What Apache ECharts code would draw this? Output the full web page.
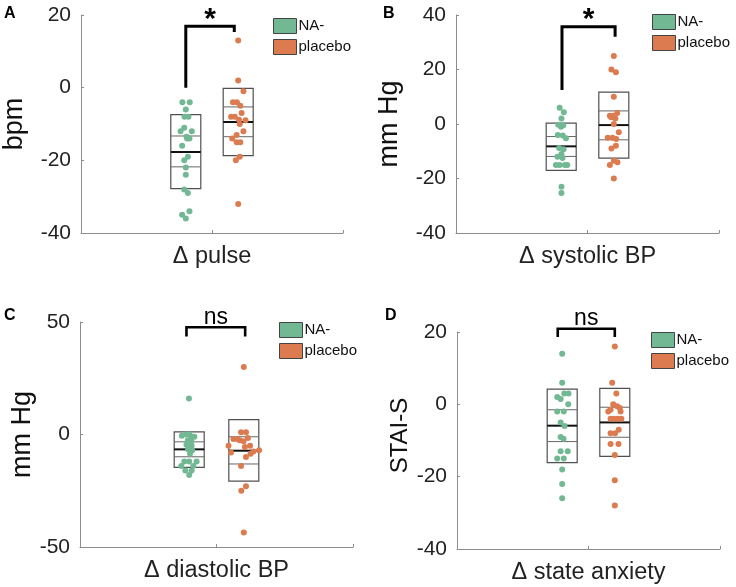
<!DOCTYPE html>
<html>
<head>
<meta charset="utf-8">
<script src="https://cdn.jsdelivr.net/npm/echarts@6/dist/echarts.min.js"></script>
<style>html,body{margin:0;padding:0;background:#fff}#c{width:736px;height:587px}</style>
</head>
<body>
<div id="c"></div>
<script>
// ---------- data ----------
var groupNames = ['NA-', 'placebo'];
var groupPos = [4, 6];
var panelLetters = ['A', 'B', 'C', 'D'];
var xNames = ['Δ pulse', 'Δ systolic BP', 'Δ diastolic BP', 'Δ state anxiety'];
var yNames = ['bpm', 'mm Hg', 'mm Hg', 'STAI-S'];
var yMin = [-40, -40, -50, -40];
var yMax = [20, 40, 50, 20];
var yStep = [20, 20, 50, 20];

// Panel A – pulse
var aNA = [-4, -4, -6, -8, -8, -11, -12, -12, -13.5, -14, -14, -16, -19, -20, -22, -24, -28, -29, -34, -35, -36];
var aNAjit = [-0.13, 0.15, 0, -0.05, 0.1, -0.06, -0.2, 0.23, 0.03, 0.14, 0.05, -0.14, 0.08, -0.06, 0, 0, -0.06, 0.08, 0.14, -0.14, 0];
var aPL = [13, 2, -1, -4, -4, -5, -7, -8, -8, -8.8, -9, -10, -12, -13, -14, -15, -15, -19, -20, -32];
var aPLjit = [0, 0, 0.2, -0.2, -0.05, 0.08, 0.13, -0.27, -0.13, 0.03, 0.28, 0.06, 0.2, -0.06, -0.23, -0.06, 0.08, 0.06, -0.09, 0];
// Panel B – systolic BP
var bNA = [6, 4.3, 2, -0.3, -0.5, -1, -4, -4.2, -5.2, -8.8, -9.3, -11, -12, -12.5, -15, -15, -15, -15, -23, -25.3];
var bNAjit = [-0.06, 0.1, 0.01, -0.11, 0.08, -0.01, -0.13, 0.06, 0.18, -0.08, 0.09, 0.01, -0.14, 0.05, -0.2, -0.06, 0.14, 0.23, 0.01, 0.01];
var bPL = [25, 20, 19, 10, 4, 3, 3, 2.5, 2, 0, -3, -5, -5, -5.5, -8, -9, -13.5, -14, -15, -20];
var bPLjit = [0, -0.09, 0.08, 0, 0.13, -0.15, -0.03, -0.1, 0.06, 0, 0.19, -0.23, -0.05, 0.09, 0.08, -0.09, 0, 0.14, -0.15, 0];
// Panel C – diastolic BP
var cNA = [16, 0, 0, -0.5, -1, -1, -2.5, -3, -4.5, -5, -6.5, -7, -8.5, -12, -12, -12, -14, -14, -16, -16, -18];
var cNAjit = [-0.01, -0.11, 0.01, -0.27, 0.19, 0.08, -0.05, 0.08, -0.1, 0.09, -0.04, 0.11, 0.03, -0.18, 0, 0.27, -0.29, 0.15, -0.14, 0.09, 0];
var cPL = [30, 1, 1, -1.5, -2, -2, -2.5, -3, -5, -5, -5.5, -7, -7.5, -8, -8.5, -10, -14, -23, -25, -43.5];
var cPLjit = [0, -0.1, 0.08, 0.15, -0.38, -0.24, -0.15, -0.01, -0.56, 0.23, 0.04, 0.56, 0.35, -0.47, 0.25, 0.08, -0.1, 0.08, -0.09, 0];
// Panel D – state anxiety
var dNA = [14, 6, 3, 3, 2, 1.5, 0, -2, -2, -5, -6, -9, -9.5, -13, -13, -15, -15, -18, -22, -26];
var dNAjit = [0, 0, 0.08, 0.24, -0.19, -0.06, 0.23, -0.19, 0.06, -0.06, 0.09, -0.06, 0.05, -0.06, 0.21, -0.19, 0.06, 0, 0, 0];
var dPL = [16, 6, 3, 0, -0.5, -1, -1.5, -2, -2, -4, -4, -4, -4, -7, -8, -8, -11, -11, -14, -21, -28];
var dPLjit = [0, -0.1, 0.06, -0.06, 0.09, 0.19, -0.16, -0.25, 0.22, -0.16, -0.03, 0.11, 0.25, 0.15, -0.16, 0.01, -0.16, 0.14, 0, 0, 0];

// box stats per group: [sdTop, sdBottom, mean, ciHigh, ciLow]
var aBox = [[-7.4, -27.8, -17.7, -13.3, -21.8], [-0.2, -18.7, -9.45, -5.3, -13.5]];
var bBox = [[0.3, -17, -8.2, -4.6, -11.9], [11.7, -12.5, -0.4, 4.8, -5.8]];
var cBox = [[1.2, -14.6, -6.6, -3.25, -9.9], [6.6, -20.7, -7.2, -1.0, -13.1]];
var dBox = [[4.2, -16.1, -5.9, -1.5, -10.3], [4.4, -14.4, -5.0, -0.8, -9.1]];

// significance brackets: [xLeft, xRight, yLeftEnd, yTop, yRightEnd]
var aSig = [4, 5.85, 0, 16.9, 15.3];
var bSig = [4.03, 6.05, 12.5, 35.7, 32];
var cSig = [3.9, 6.05, 43.6, 47.7, 43.6];
var dSig = [3.83, 6.0, 18.6, 20.9, 18.6];
var sigText = ['*', '*', 'ns', 'ns'];

// ---------- layout / style ----------
var FONT = "'Liberation Sans', Arial, sans-serif";
var GREEN = '#72b893', ORANGE = '#dd7b50';
var grids = [
  {left: 79, top: 15, width: 264, height: 218},
  {left: 456, top: 15, width: 263, height: 218},
  {left: 80, top: 322, width: 273, height: 225},
  {left: 457, top: 332, width: 263, height: 217}
];
var yNameGap = [53, 53, 35, 43];
var yNameSize = [27, 27, 27, 24];
var yNamePad = [0, 0, 0, [0, 0, 0, 10]];
var legendPos = [{left: 273, top: 18}, {left: 652, top: 14}, {left: 279, top: 322}, {left: 651, top: 332}];
var letterPos = [[4, 6], [383, 6], [4, 308], [385, 308]];

var panelNA = [aNA, bNA, cNA, dNA], panelNAjit = [aNAjit, bNAjit, cNAjit, dNAjit];
var panelPL = [aPL, bPL, cPL, dPL], panelPLjit = [aPLjit, bPLjit, cPLjit, dPLjit];
var panelBox = [aBox, bBox, cBox, dBox];
var panelSig = [aSig, bSig, cSig, dSig];

var BOX_HALF = 15;
function boxRender(params, api) {
  var x = api.value(0);
  var t = api.coord([x, api.value(1)]);
  var b = api.coord([x, api.value(2)]);
  var m = api.coord([x, api.value(3)]);
  var h = api.coord([x, api.value(4)]);
  var l = api.coord([x, api.value(5)]);
  var x0 = t[0] - BOX_HALF, x1 = t[0] + BOX_HALF;
  return {type: 'group', children: [
    {type: 'rect', shape: {x: x0, y: t[1], width: x1 - x0, height: b[1] - t[1]},
      style: {fill: 'rgba(255,255,255,0)', stroke: '#505050', lineWidth: 1.2}},
    {type: 'line', shape: {x1: x0, y1: h[1], x2: x1, y2: h[1]}, style: {stroke: '#666', lineWidth: 1}},
    {type: 'line', shape: {x1: x0, y1: l[1], x2: x1, y2: l[1]}, style: {stroke: '#666', lineWidth: 1}},
    {type: 'line', shape: {x1: x0, y1: m[1], x2: x1, y2: m[1]}, style: {stroke: '#111', lineWidth: 2}}
  ]};
}
function sigRender(text) {
  var isStar = text === '*';
  return function (params, api) {
    var p1 = api.coord([api.value(0), api.value(2)]);
    var p2 = api.coord([api.value(0), api.value(3)]);
    var p3 = api.coord([api.value(1), api.value(3)]);
    var p4 = api.coord([api.value(1), api.value(4)]);
    return {type: 'group', children: [
      {type: 'polyline', shape: {points: [p1, p2, p3, p4]},
        style: {stroke: '#000', lineWidth: isStar ? 3 : 2.6, fill: null, lineJoin: 'miter', lineCap: 'butt'}},
      {type: 'text', x: (p2[0] + p3[0]) / 2, y: p2[1] - (isStar ? 7 : 10),
        style: {text: text, fontFamily: FONT, fontSize: isStar ? 30 : 23, fontWeight: isStar ? 'bold' : 'normal',
          fill: '#000', align: 'center', verticalAlign: 'middle'}}
    ]};
  };
}

var option = {
  animation: false,
  textStyle: {fontFamily: FONT},
  grid: grids,
  xAxis: [], yAxis: [], series: [], legend: [], graphic: []
};
for (var p = 0; p < 4; p++) {
  option.xAxis.push({
    type: 'value', gridIndex: p, min: 0, max: 10, interval: 5,
    name: xNames[p], nameLocation: 'middle', nameGap: 12,
    nameTextStyle: {fontSize: 23.5, color: '#222', fontFamily: FONT},
    axisLine: {show: true, onZero: false, lineStyle: {color: '#8c8c8c', width: 1}},
    axisTick: {show: true, inside: true, length: 3, lineStyle: {color: '#8c8c8c'}},
    axisLabel: {show: false}, splitLine: {show: false}
  });
  option.yAxis.push({
    type: 'value', gridIndex: p, min: yMin[p], max: yMax[p], interval: yStep[p],
    name: yNames[p], nameLocation: 'middle', nameGap: yNameGap[p],
    nameTextStyle: {fontSize: yNameSize[p], color: '#111', fontFamily: FONT, padding: yNamePad[p]},
    axisLine: {show: true, onZero: false, lineStyle: {color: '#8c8c8c', width: 1}},
    axisTick: {show: true, inside: true, length: 3, lineStyle: {color: '#8c8c8c'}},
    axisLabel: {fontSize: 21, color: '#222', margin: 10, fontFamily: FONT},
    splitLine: {show: false}
  });
  var boxData = panelBox[p].map(function (s, g) { return [groupPos[g]].concat(s); });
  option.series.push({
    type: 'custom', xAxisIndex: p, yAxisIndex: p, renderItem: boxRender, data: boxData, z: 1, silent: true
  });
  var naPts = panelNA[p].map(function (v, i) { return [groupPos[0] + panelNAjit[p][i], v]; });
  var plPts = panelPL[p].map(function (v, i) { return [groupPos[1] + panelPLjit[p][i], v]; });
  option.series.push({
    type: 'scatter', name: groupNames[0], xAxisIndex: p, yAxisIndex: p, data: naPts,
    symbolSize: 6, itemStyle: {color: GREEN, opacity: 1}, z: 3
  });
  option.series.push({
    type: 'scatter', name: groupNames[1], xAxisIndex: p, yAxisIndex: p, data: plPts,
    symbolSize: 6, itemStyle: {color: ORANGE, opacity: 1}, z: 3
  });
  option.series.push({
    type: 'custom', xAxisIndex: p, yAxisIndex: p, renderItem: sigRender(sigText[p]),
    data: [panelSig[p]], z: 4, silent: true, clip: false
  });
  option.legend.push({
    data: groupNames, orient: 'vertical', left: legendPos[p].left, top: legendPos[p].top,
    padding: 0, itemGap: 5, itemWidth: 23, itemHeight: 15, icon: 'rect',
    itemStyle: {borderColor: '#444', borderWidth: 1},
    textStyle: {fontSize: 15, color: '#111', fontFamily: FONT, padding: [0, 0, 0, -3]},
    selectedMode: false
  });
  option.graphic.push({
    type: 'text', left: letterPos[p][0], top: letterPos[p][1],
    style: {text: panelLetters[p], fontFamily: FONT, fontSize: 16, fontWeight: 'bold', fill: '#000'}
  });
}
var chart = echarts.init(document.getElementById('c'), null, {renderer: 'canvas'});
chart.setOption(option);
</script>
</body>
</html>
